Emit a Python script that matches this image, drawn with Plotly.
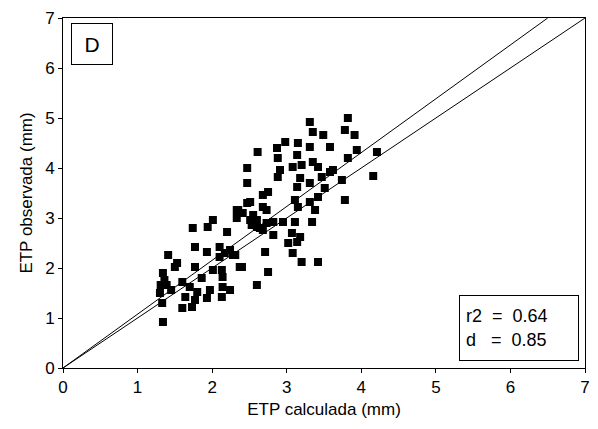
import plotly.graph_objects as go

# calculated ETP (mm)
etp_calc = [
    1.41, 1.53, 1.50, 1.34, 1.77, 2.01, 2.13, 2.14, 2.14, 2.13, 2.40, 1.86, 1.39, 1.60,
    1.70, 1.80, 1.97, 1.64, 1.77, 1.93, 1.30, 1.60, 1.73, 1.33, 1.34, 2.01, 1.94, 1.74,
    2.20, 1.77, 1.93, 2.10, 2.17, 2.10, 2.31, 2.35, 2.47, 2.55, 2.60, 2.53, 2.64, 2.73,
    3.31, 3.82, 3.78, 3.91, 3.35, 3.49, 2.98, 3.15, 2.87, 2.61, 3.31, 3.58, 3.94, 4.21,
    3.82, 2.88, 3.14, 3.35, 3.42, 3.08, 3.20, 2.47, 2.91, 3.62, 4.16, 3.47, 3.58, 3.74,
    3.18, 2.47, 3.31, 3.14, 3.51, 2.75, 2.68, 3.42, 2.51, 3.11, 3.15, 3.31, 2.68, 2.73,
    3.38, 3.78, 2.33, 2.41, 2.51, 2.33, 2.82, 2.95, 3.11, 3.34, 2.60, 2.68, 2.82, 3.07,
    3.18, 3.02, 3.14, 2.28, 2.71, 3.08, 2.37, 2.75, 3.20, 3.42, 2.60, 2.24, 2.24, 2.88,
    1.36, 1.45, 1.31,
]
# observed ETP (mm)
etp_obs = [
    2.26, 2.10, 2.02, 1.90, 2.02, 1.96, 1.96, 1.82, 1.62, 1.42, 2.02, 1.80, 1.66, 1.72,
    1.62, 1.52, 1.56, 1.42, 1.36, 1.40, 1.50, 1.20, 1.22, 1.30, 0.92, 2.96, 2.82, 2.80,
    2.72, 2.42, 2.32, 2.42, 2.30, 2.22, 2.26, 3.16, 3.30, 3.06, 2.96, 2.86, 2.80, 2.90,
    4.92, 5.00, 4.76, 4.66, 4.72, 4.66, 4.52, 4.50, 4.40, 4.32, 4.42, 4.42, 4.36, 4.32,
    4.20, 4.20, 4.26, 4.12, 4.02, 4.02, 4.06, 4.00, 3.96, 3.96, 3.84, 3.82, 3.92, 3.76,
    3.80, 3.70, 3.70, 3.62, 3.60, 3.52, 3.46, 3.42, 3.32, 3.36, 3.22, 3.32, 3.22, 3.16,
    3.16, 3.36, 3.16, 3.10, 2.96, 3.00, 2.92, 2.92, 2.92, 2.92, 2.82, 2.76, 2.66, 2.70,
    2.62, 2.50, 2.52, 2.26, 2.32, 2.30, 2.02, 1.92, 2.12, 2.12, 1.66, 2.36, 1.56, 3.82,
    1.76, 1.56, 1.66,
]

one_to_one = [0, 7]
reg_x = [0, 6.5]
reg_y = [0, 7]

stats_text = "r2  =  0.64<br>d   =  0.85"
panel_label = "D"

fig = go.Figure()
fig.add_trace(go.Scatter(x=one_to_one, y=one_to_one, mode="lines",
                         line=dict(color="black", width=1), showlegend=False))
fig.add_trace(go.Scatter(x=reg_x, y=reg_y, mode="lines",
                         line=dict(color="black", width=1), showlegend=False))
fig.add_trace(go.Scatter(x=etp_calc, y=etp_obs, mode="markers",
                         marker=dict(symbol="square", size=8, color="black"),
                         showlegend=False))

font = "Liberation Sans, Arial, sans-serif"
axis_common = dict(
    range=[0, 7], dtick=1, showgrid=False, zeroline=False,
    showline=True, linecolor="black", linewidth=1, mirror=True,
    ticks="outside", ticklen=4, tickcolor="black",
    tickfont=dict(family=font, size=17, color="black"),
    automargin=False,
)
fig.update_xaxes(**axis_common,
                 title=dict(text="ETP calculada (mm)", font=dict(family=font, size=17, color="black"), standoff=6))
fig.update_yaxes(**axis_common,
                 title=dict(text="ETP observada (mm)", font=dict(family=font, size=17, color="black"), standoff=8))

fig.add_annotation(x=0.015, y=0.985, xref="paper", yref="paper", xanchor="left", yanchor="top",
                   text=panel_label, showarrow=False, font=dict(family=font, size=21, color="black"),
                   bordercolor="black", borderwidth=1, borderpad=4, bgcolor="white",
                   width=32, height=32)
fig.add_annotation(x=0.988, y=0.02, xref="paper", yref="paper", xanchor="right", yanchor="bottom",
                   text=stats_text, showarrow=False, align="left",
                   font=dict(family=font, size=18, color="black"),
                   bordercolor="black", borderwidth=1, borderpad=6, bgcolor="white",
                   width=106, height=52)

fig.update_layout(
    width=598, height=429,
    margin=dict(l=63, r=13, t=18, b=61),
    paper_bgcolor="white", plot_bgcolor="white",
)
fig.write_html("out.html", config={"displayModeBar": False},
               post_script="document.body.style.margin='0';")
